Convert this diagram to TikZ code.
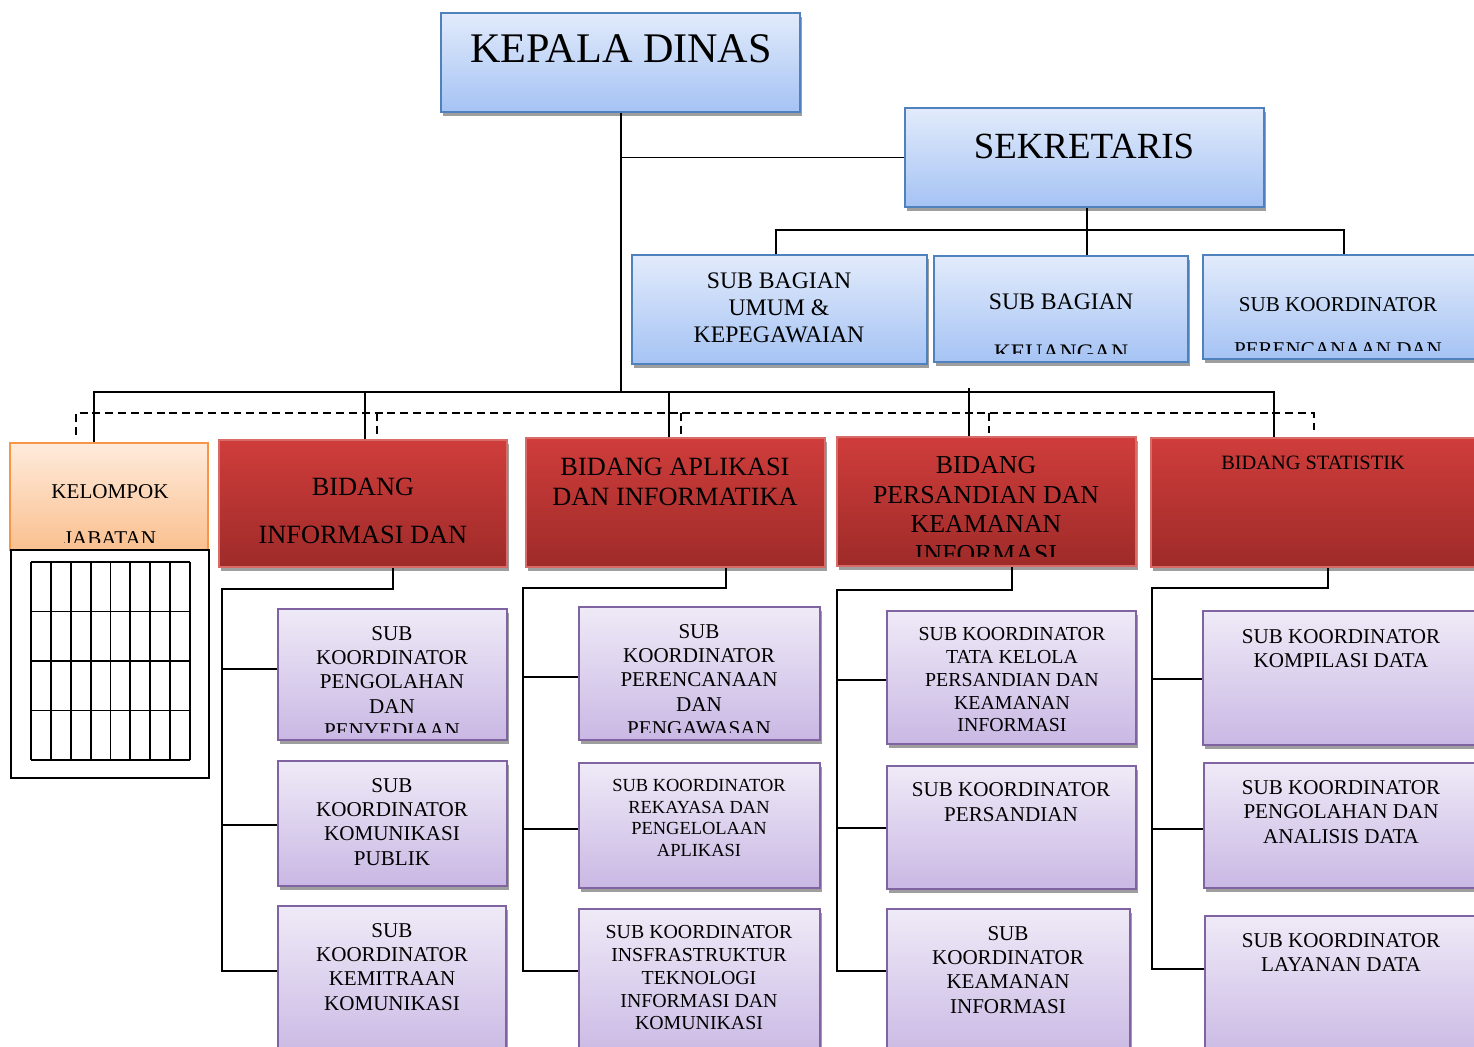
\documentclass[tikz,border=0pt]{standalone}
\usepackage{fontspec}
\setmainfont{Liberation Serif}
\usepackage{tikz}
\usetikzlibrary{positioning,fit,shadows}
\definecolor{dinasBlueTop}{HTML}{E2EBFB}
\definecolor{dinasBlueBot}{HTML}{A5C3F4}
\definecolor{dinasBlueEdge}{HTML}{4F81BD}
\definecolor{dinasRedTop}{HTML}{CF3D3B}
\definecolor{dinasRedBot}{HTML}{9E2B29}
\definecolor{dinasRedEdge}{HTML}{D86A68}
\definecolor{dinasOrangeTop}{HTML}{FEEBDC}
\definecolor{dinasOrangeBot}{HTML}{FAC08F}
\definecolor{dinasOrangeEdge}{HTML}{F79646}
\definecolor{dinasPurpleTop}{HTML}{EFEAF7}
\definecolor{dinasPurpleBot}{HTML}{C9B8E4}
\definecolor{dinasPurpleEdge}{HTML}{8064A2}

\begin{document}
\begin{tikzpicture}[
  x=0.02cm,
  y=-0.02cm,
  boxshadow/.style={drop shadow={shadow xshift=1.2pt, shadow yshift=-2.2pt, fill=black!38, opacity=1}},
  bluebox/.style={draw=dinasBlueEdge, line width=1.1pt, top color=dinasBlueTop, bottom color=dinasBlueBot,
    inner sep=0pt, boxshadow},
  redbox/.style={draw=dinasRedEdge, line width=0.8pt, top color=dinasRedTop, bottom color=dinasRedBot,
    inner sep=0pt, boxshadow},
  orangebox/.style={draw=dinasOrangeEdge, line width=1.1pt, top color=dinasOrangeTop, bottom color=dinasOrangeBot,
    inner sep=0pt},
  subbox/.style={draw=dinasPurpleEdge, line width=1.1pt, top color=dinasPurpleTop, bottom color=dinasPurpleBot,
    inner sep=0pt, boxshadow},
  plainbox/.style={draw=black, line width=1.1pt, fill=white, inner sep=0pt},
  txt/.style={align=center, inner sep=0pt, anchor=north},
  link/.style={line width=1.1pt, draw=black},
  dashlink/.style={line width=1.1pt, draw=black, dash pattern=on 4.5pt off 2.8pt}
]
\useasboundingbox (0,0) rectangle (1474,1047);

% pimpinan
\node[bluebox, fit={(441,13) (800,112)}] (kepala) {};
\node[txt, font=\fontsize{24}{28}\selectfont] (kepala-t) at (621,34) {KEPALA DINAS};
\node[bluebox, fit={(905,108) (1264,207)}] (sekretaris) {};
\node[txt, font=\fontsize{21}{25}\selectfont] (sekretaris-t) at (1084,134) {SEKRETARIS};

\node[bluebox, fit={(632,255) (927,364)}] (sbumum) {};
\node[txt, font=\fontsize{13.5}{15.6}\selectfont] (sbumum-t) at (779,272) {SUB BAGIAN\\UMUM \&\\KEPEGAWAIAN};
\node[bluebox, fit={(934,256) (1188,362)}] (sbkeu) {};
\begin{scope}
  \clip ([yshift=5.5pt]sbkeu.south west) rectangle (sbkeu.north east);
  \node[txt, font=\fontsize{13.5}{29}\selectfont] (sbkeu-t) at (1061,293) {SUB BAGIAN\\KEUANGAN};
\end{scope}
\node[bluebox, fit={(1203,255) (1480,359)}] (skren) {};
\begin{scope}
  \clip ([yshift=5.5pt]skren.south west) rectangle (skren.north east);
  \node[txt, font=\fontsize{12}{26}\selectfont] (skren-t) at (1338,297) {SUB KOORDINATOR\\PERENCANAAN DAN};
\end{scope}

% kelompok jabatan
\node[orangebox, fit={(10,443) (208,550)}] (kjab) {};
\begin{scope}
  \clip ([yshift=5pt]kjab.south west) rectangle (kjab.north east);
  \node[txt, font=\fontsize{12}{26.6}\selectfont] (kjab-t) at (110,484) {KELOMPOK\\JABATAN};
\end{scope}
\node[plainbox, fit={(11,550) (209,778)}] (kgrid) {};
\foreach \i in {0,...,8}
  \draw[line width=1.1pt] (31+\i*19.875,562) -- (31+\i*19.875,760);
\foreach \j in {0,...,4}
  \draw[line width=1.1pt] (31,562+\j*49.5) -- (190,562+\j*49.5);

% bidang
\node[redbox, fit={(219,440) (507,567)}] (bidinfo) {};
\node[txt, font=\fontsize{15}{27.2}\selectfont] (bidinfo-t) at (363,478) {BIDANG\\INFORMASI DAN};
\node[redbox, fit={(526,438) (825,567)}] (bidapl) {};
\node[txt, font=\fontsize{15}{17}\selectfont] (bidapl-t) at (675,458) {BIDANG APLIKASI\\DAN INFORMATIKA};
\node[redbox, fit={(837,437) (1136,566)}] (bidsan) {};
\begin{scope}
  \clip ([yshift=6pt]bidsan.south west) rectangle (bidsan.north east);
  \node[txt, font=\fontsize{14.7}{16.9}\selectfont] (bidsan-t) at (986,456) {BIDANG\\PERSANDIAN DAN\\KEAMANAN\\INFORMASI};
\end{scope}
\node[redbox, fit={(1151,438) (1480,567)}] (bidstat) {};
\node[txt, font=\fontsize{11.6}{13}\selectfont] (bidstat-t) at (1313,456) {BIDANG STATISTIK};

% sub koordinator
\node[subbox, fit={(278,609) (507,740)}] (c1a) {};
\begin{scope}
  \clip ([yshift=5pt]c1a.south west) rectangle (c1a.north east);
  \node[txt, font=\fontsize{12}{13.8}\selectfont] (c1a-t) at (392,626) {SUB\\KOORDINATOR\\PENGOLAHAN\\DAN\\PENYEDIAAN};
\end{scope}
\node[subbox, fit={(278,761) (507,886)}] (c1b) {};
\node[txt, font=\fontsize{12}{13.8}\selectfont] (c1b-t) at (392,778) {SUB\\KOORDINATOR\\KOMUNIKASI\\PUBLIK};
\node[subbox, fit={(278,906) (506,1060)}] (c1c) {};
\node[txt, font=\fontsize{12}{13.8}\selectfont] (c1c-t) at (392,923) {SUB\\KOORDINATOR\\KEMITRAAN\\KOMUNIKASI};

\node[subbox, fit={(579,607) (820,740)}] (c2a) {};
\begin{scope}
  \clip ([yshift=5pt]c2a.south west) rectangle (c2a.north east);
  \node[txt, font=\fontsize{12}{13.8}\selectfont] (c2a-t) at (699,624) {SUB\\KOORDINATOR\\PERENCANAAN\\DAN\\PENGAWASAN};
\end{scope}
\node[subbox, fit={(579,763) (820,888)}] (c2b) {};
\node[txt, font=\fontsize{10.5}{12.3}\selectfont] (c2b-t) at (699,779) {SUB KOORDINATOR\\REKAYASA DAN\\PENGELOLAAN\\APLIKASI};
\node[subbox, fit={(579,909) (820,1060)}] (c2c) {};
\node[txt, font=\fontsize{11.3}{13}\selectfont] (c2c-t) at (699,925) {SUB KOORDINATOR\\INSFRASTRUKTUR\\TEKNOLOGI\\INFORMASI DAN\\KOMUNIKASI};

\node[subbox, fit={(887,611) (1136,744)}] (c3a) {};
\node[txt, font=\fontsize{11.3}{13}\selectfont] (c3a-t) at (1012,627) {SUB KOORDINATOR\\TATA KELOLA\\PERSANDIAN DAN\\KEAMANAN\\INFORMASI};
\node[subbox, fit={(887,766) (1136,889)}] (c3b) {};
\node[txt, font=\fontsize{12}{14.2}\selectfont] (c3b-t) at (1011,782) {SUB KOORDINATOR\\PERSANDIAN};
\node[subbox, fit={(887,909) (1130,1060)}] (c3c) {};
\node[txt, font=\fontsize{12}{13.8}\selectfont] (c3c-t) at (1008,926) {SUB\\KOORDINATOR\\KEAMANAN\\INFORMASI};

\node[subbox, fit={(1203,611) (1480,745)}] (c4a) {};
\node[txt, font=\fontsize{12}{13.6}\selectfont] (c4a-t) at (1341,629) {SUB KOORDINATOR\\KOMPILASI DATA};
\node[subbox, fit={(1204,763) (1480,888)}] (c4b) {};
\node[txt, font=\fontsize{12}{13.9}\selectfont] (c4b-t) at (1341,780) {SUB KOORDINATOR\\PENGOLAHAN DAN\\ANALISIS DATA};
\node[subbox, fit={(1205,916) (1480,1060)}] (c4c) {};
\node[txt, font=\fontsize{12}{13.6}\selectfont] (c4c-t) at (1341,933) {SUB KOORDINATOR\\LAYANAN DATA};

% garis komando
\coordinate (bus) at (621,392);
\coordinate (sekbus) at (1087,230);
\draw[link] (kepala.south -| bus) -- (bus);
\draw[link] (bus |- sekretaris.west) -- (sekretaris.west);
\draw[link] (sekretaris.south -| sekbus) -- (sekbus) -- (sekbus |- sbkeu.north);
\draw[link] (sbumum.north -| 776,0) |- (sekbus) -| (skren.north -| 1344,0);

\draw[link] (kjab.north -| 94,0) |- (bus) -| (bidstat.north -| 1274,0);
\draw[link] (bidinfo.north -| 365,0) -- (365,392);
\draw[link] (bidapl.north -| 669,0) -- (669,392);
\draw[link] (bidsan.north -| 969,0) -- (969,388);

% garis koordinasi
\draw[dashlink] ([yshift=4pt]kjab.north -| 76,0) |- (1314,413) -- ([yshift=4pt]bidstat.north -| 1314,0);
\draw[dashlink] (377,413) -- ([yshift=3pt]bidinfo.north -| 377,0);
\draw[dashlink] (681,413) -- ([yshift=2pt]bidapl.north -| 681,0);
\draw[dashlink] (989,413) -- ([yshift=2pt]bidsan.north -| 989,0);

% cabang sub koordinator
\draw[link] (bidinfo.south -| 393,0) |- (222,589) |- (c1c.west |- 0,971);
\draw[link] (222,669) -- (c1a.west |- 0,669);
\draw[link] (222,825) -- (c1b.west |- 0,825);
\draw[link] (bidapl.south -| 726,0) |- (523,588) |- (c2c.west |- 0,971);
\draw[link] (523,677) -- (c2a.west |- 0,677);
\draw[link] (523,829) -- (c2b.west |- 0,829);
\draw[link] (bidsan.south -| 1012,0) |- (837,590) |- (c3c.west |- 0,971);
\draw[link] (837,680) -- (c3a.west |- 0,680);
\draw[link] (837,828) -- (c3b.west |- 0,828);
\draw[link] (bidstat.south -| 1328,0) |- (1152,588) |- (c4c.west |- 0,969);
\draw[link] (1152,679) -- (c4a.west |- 0,679);
\draw[link] (1152,829) -- (c4b.west |- 0,829);
\end{tikzpicture}
\end{document}
